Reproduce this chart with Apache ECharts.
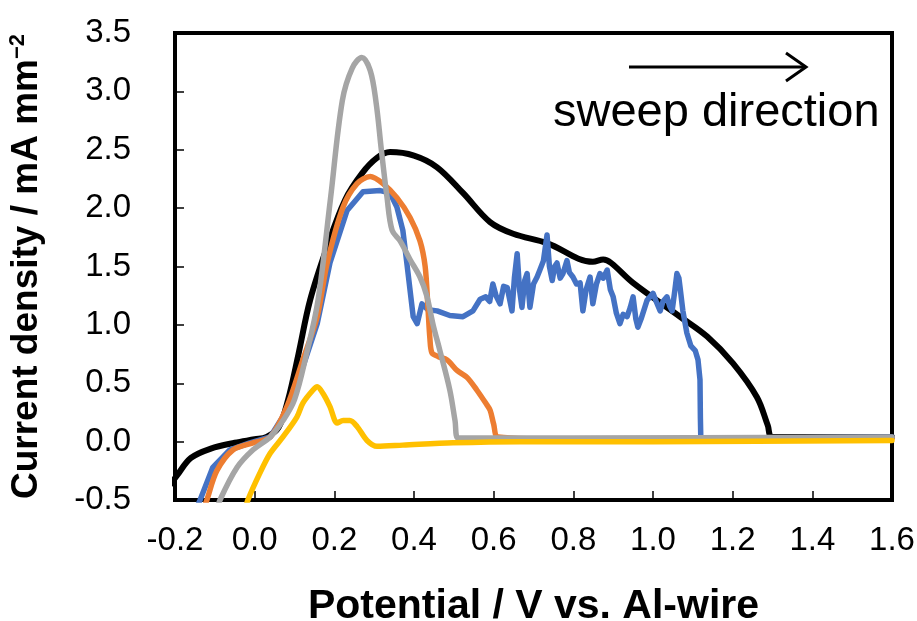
<!DOCTYPE html>
<html>
<head>
<meta charset="utf-8">
<script src="https://cdn.jsdelivr.net/npm/echarts@6/dist/echarts.min.js"></script>
<style>
html,body{margin:0;padding:0;background:#fff;}
#chart{width:917px;height:621px;}
</style>
</head>
<body>
<div id="chart"></div>
<script>
// ---- data (potential V, current density mA mm^-2) ----
const xTicks = [-0.2, 0.0, 0.2, 0.4, 0.6, 0.8, 1.0, 1.2, 1.4, 1.6];
const yTicks = [-0.5, 0.0, 0.5, 1.0, 1.5, 2.0, 2.5, 3.0, 3.5];

const blackSeries = [[-0.21,-0.36],[-0.195,-0.29],[-0.16,-0.14],[-0.11,-0.06],[-0.05,-0.01],[0.0,0.02],[0.03,0.04],[0.06,0.12],[0.084,0.36],[0.11,0.75],[0.139,1.21],[0.18,1.65],[0.227,2.07],[0.27,2.3],[0.307,2.43],[0.34,2.48],[0.4,2.45],[0.458,2.35],[0.523,2.13],[0.591,1.88],[0.649,1.78],[0.734,1.70],[0.849,1.54],[0.875,1.56],[0.895,1.53],[0.95,1.36],[1.068,1.07],[1.136,0.90],[1.201,0.67],[1.261,0.38],[1.288,0.14],[1.299,0.04],[1.4,0.04],[1.6,0.04]];

const blueSeries = [[-0.15,-0.6],[-0.137,-0.5],[-0.105,-0.22],[-0.062,-0.07],[-0.012,-0.01],[0.039,0.04],[0.081,0.27],[0.121,0.64],[0.157,1.01],[0.189,1.53],[0.232,1.98],[0.272,2.14],[0.315,2.15],[0.34,2.13],[0.357,2.01],[0.372,1.81],[0.382,1.53],[0.398,1.07],[0.408,1.01],[0.42,1.18],[0.435,1.13],[0.458,1.12],[0.49,1.08],[0.523,1.07],[0.548,1.12],[0.566,1.22],[0.58,1.24],[0.59,1.20],[0.598,1.35],[0.606,1.25],[0.616,1.18],[0.625,1.33],[0.634,1.32],[0.646,1.12],[0.652,1.40],[0.659,1.61],[0.665,1.3],[0.671,1.15],[0.678,1.38],[0.684,1.44],[0.691,1.15],[0.70,1.35],[0.709,1.41],[0.716,1.47],[0.725,1.55],[0.734,1.77],[0.74,1.5],[0.747,1.38],[0.753,1.5],[0.759,1.53],[0.767,1.40],[0.774,1.44],[0.784,1.55],[0.79,1.45],[0.799,1.41],[0.808,1.35],[0.817,1.36],[0.824,1.12],[0.832,1.30],[0.842,1.41],[0.849,1.18],[0.858,1.35],[0.867,1.44],[0.875,1.40],[0.885,1.47],[0.893,1.30],[0.900,1.24],[0.908,1.10],[0.917,1.01],[0.925,1.09],[0.935,1.07],[0.943,1.15],[0.950,1.24],[0.957,1.05],[0.962,0.98],[0.97,1.05],[0.985,1.21],[1.0,1.27],[1.008,1.2],[1.018,1.12],[1.025,1.2],[1.035,1.24],[1.042,1.16],[1.048,1.12],[1.055,1.3],[1.06,1.44],[1.065,1.40],[1.068,1.32],[1.075,1.12],[1.085,0.93],[1.095,0.82],[1.106,0.78],[1.113,0.70],[1.118,0.53],[1.119,0.2],[1.12,0.03],[1.3,0.03],[1.6,0.04]];

const orangeSeries = [[-0.13,-0.6],[-0.12,-0.5],[-0.095,-0.25],[-0.054,-0.07],[-0.004,-0.01],[0.039,0.04],[0.081,0.30],[0.121,0.70],[0.157,1.07],[0.182,1.53],[0.222,2.01],[0.257,2.21],[0.29,2.27],[0.322,2.21],[0.357,2.09],[0.39,1.92],[0.415,1.72],[0.428,1.5],[0.435,1.15],[0.44,0.88],[0.445,0.76],[0.46,0.73],[0.483,0.70],[0.508,0.61],[0.533,0.55],[0.558,0.44],[0.58,0.33],[0.591,0.27],[0.60,0.15],[0.611,0.04],[0.8,0.02],[1.6,0.03]];

const graySeries = [[-0.095,-0.6],[-0.087,-0.5],[-0.044,-0.22],[-0.004,-0.07],[0.039,0.04],[0.071,0.18],[0.10,0.36],[0.13,0.75],[0.159,1.21],[0.19,2.07],[0.22,2.92],[0.245,3.2],[0.269,3.29],[0.29,3.18],[0.305,2.9],[0.318,2.5],[0.332,2.1],[0.345,1.81],[0.365,1.72],[0.39,1.56],[0.415,1.41],[0.432,1.25],[0.448,1.0],[0.465,0.78],[0.49,0.44],[0.503,0.18],[0.511,0.03],[0.8,0.03],[1.6,0.04]];

const yellowSeries = [[-0.025,-0.6],[-0.017,-0.5],[0.013,-0.27],[0.039,-0.10],[0.071,0.04],[0.106,0.21],[0.121,0.33],[0.146,0.44],[0.157,0.47],[0.172,0.41],[0.189,0.30],[0.207,0.16],[0.222,0.18],[0.239,0.18],[0.257,0.13],[0.282,0.01],[0.307,-0.04],[0.372,-0.03],[0.498,-0.01],[0.666,0.0],[1.0,0.0],[1.6,0.01]];

const xTitle = 'Potential / V vs. Al-wire';
const yTitle = 'Current density / mA mm{sup|−2}';
const annotation = 'sweep direction';

// ---- chart ----
const chart = echarts.init(document.getElementById('chart'), null, {renderer:'canvas'});
const FONT = '"Liberation Sans", Arial, sans-serif';
function mk(name, data, color, w, smooth){
  return {name, type:'line', data, showSymbol:false, symbol:'none',
    smooth: smooth, lineStyle:{color, width:w, cap:'round', join:'round'}, clip:true, animation:false};
}
chart.setOption({
  animation:false,
  backgroundColor:'#fff',
  grid:{left:175, right:25, top:33, bottom:121, show:true, borderColor:'#000', borderWidth:4,
        containLabel:false, outerBoundsMode:'none'},
  xAxis:{type:'value', min:xTicks[0], max:xTicks[xTicks.length-1], interval:0.2,
    axisLine:{show:true, onZero:false, lineStyle:{color:'#000', width:4}},
    axisTick:{show:true, inside:true, length:9, lineStyle:{color:'#000', width:1.5}},
    splitLine:{show:false},
    axisLabel:{margin:24, fontSize:33, color:'#000', fontFamily:FONT, formatter:v=>v.toFixed(1), showMinLabel:true, showMaxLabel:true},
    name:xTitle, nameLocation:'middle', nameGap:86,
    nameTextStyle:{fontSize:41, fontWeight:'bold', color:'#000', fontFamily:FONT}
  },
  yAxis:{type:'value', min:yTicks[0], max:yTicks[yTicks.length-1], interval:0.5,
    axisLine:{show:true, onZero:false, lineStyle:{color:'#000', width:4}},
    axisTick:{show:true, inside:true, length:9, lineStyle:{color:'#000', width:1.5}},
    splitLine:{show:false},
    axisLabel:{margin:44, fontSize:33, color:'#000', fontFamily:FONT, formatter:v=>v.toFixed(1)},
    name:yTitle, nameLocation:'middle', nameGap:128, nameRotate:90,
    nameTextStyle:{fontSize:37, fontWeight:'bold', color:'#000', fontFamily:FONT,
      rich:{sup:{fontSize:22, fontWeight:'bold', verticalAlign:'top', padding:[0,0,18,0], color:'#000', fontFamily:FONT}}}
  },
  series:[
    mk('black', blackSeries, '#000000', 6, 0.35),
    mk('blue', blueSeries, '#4472C4', 5.5, false),
    mk('orange', orangeSeries, '#ED7D31', 5.5, 0.3),
    mk('gray', graySeries, '#A5A5A5', 5.5, 0.35),
    mk('yellow', yellowSeries, '#FFC000', 5.5, 0.3)
  ],
  graphic:[
    {type:'polyline', shape:{points:[[629,67],[806,67]]}, style:{stroke:'#000', lineWidth:3}},
    {type:'polyline', shape:{points:[[786,53],[806,67],[786,81]]}, style:{stroke:'#000', lineWidth:3, fill:null}},
    {type:'text', left:553, top:90, style:{text:annotation, fontSize:47, fill:'#000', fontFamily:FONT}}
  ]
});
</script>
</body>
</html>
